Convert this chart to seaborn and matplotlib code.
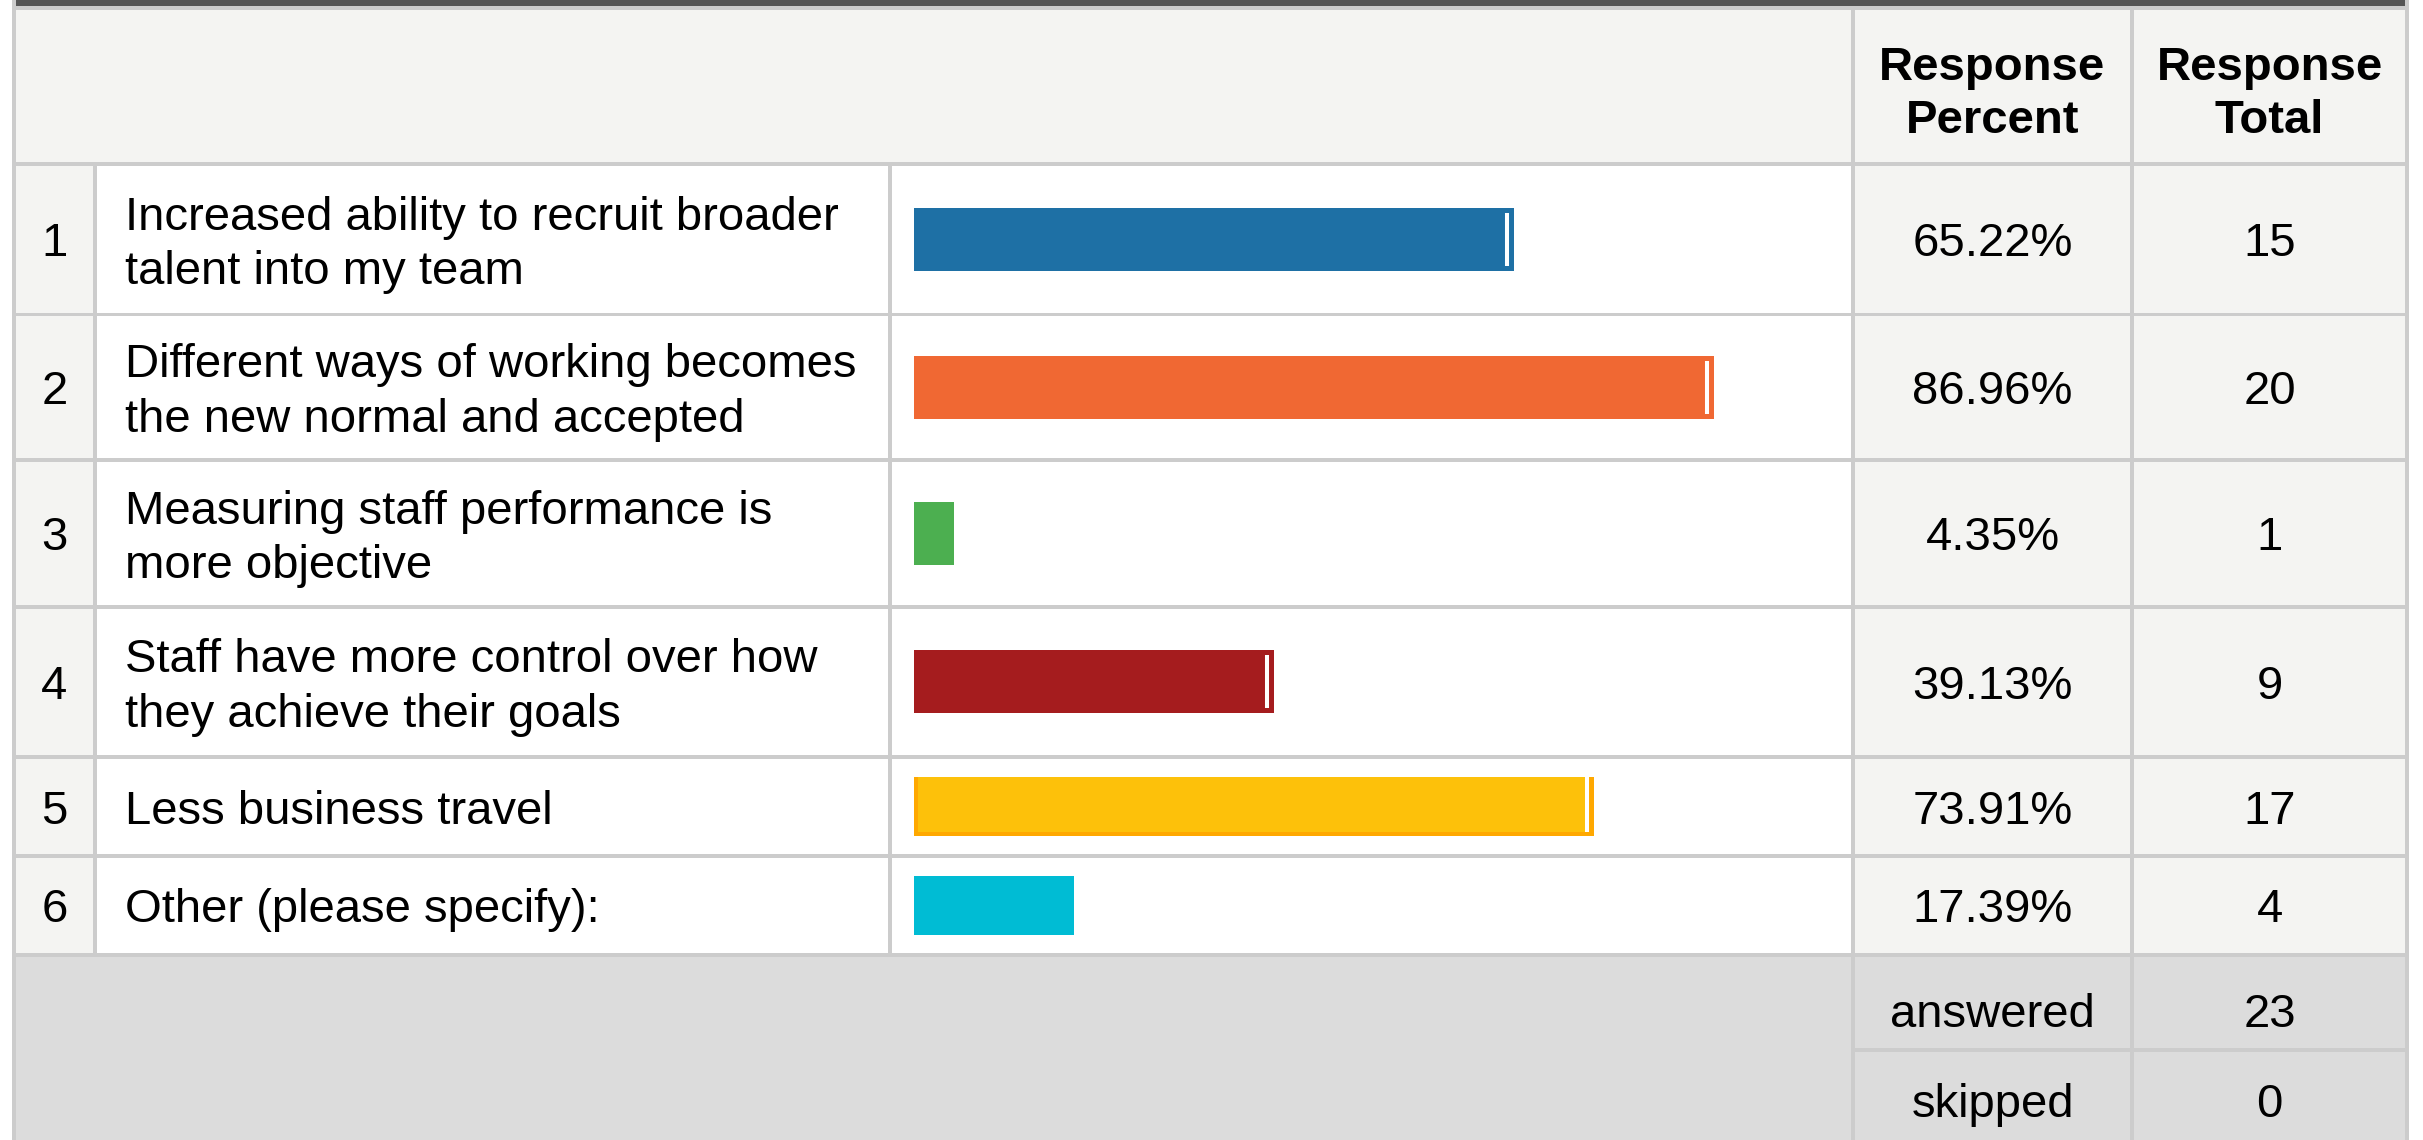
import matplotlib
matplotlib.use("Agg")
import matplotlib.pyplot as plt
from matplotlib.patches import Rectangle
import pandas as pd
import seaborn as sns

# ---- survey results -------------------------------------------------------
options = [
    "Increased ability to recruit broader\ntalent into my team",
    "Different ways of working becomes\nthe new normal and accepted",
    "Measuring staff performance is\nmore objective",
    "Staff have more control over how\nthey achieve their goals",
    "Less business travel",
    "Other (please specify):",
]
percents = [65.22, 86.96, 4.35, 39.13, 73.91, 17.39]
totals = [15, 20, 1, 9, 17, 4]
answered = 23
skipped = 0
header_percent = ["Response", "Percent"]
header_total = ["Response", "Total"]

bar_colors = ["#1E70A5", "#F06833", "#4CAF50", "#A51C1E", "#FDC10A", "#00BCD4"]
end_tick = [True, True, False, True, True, False]

df = pd.DataFrame({"row": [str(i + 1) for i in range(len(options))],
                   "option": options, "percent": percents, "total": totals})

# ---- styling --------------------------------------------------------------
sns.set_theme(style="white")
plt.rcParams["font.family"] = ["Liberation Sans", "DejaVu Sans"]

W, H = 2423, 1140
FS = 34
LINE = "#CCCCCC"
CELL = "#F4F4F2"
FOOT = "#DCDCDC"

fig = plt.figure(figsize=(W / 100, H / 100), dpi=100)
fig.patch.set_facecolor("white")
bg = fig.add_axes([0, 0, 1, 1])
bg.set_xlim(0, W)
bg.set_ylim(H, 0)
bg.axis("off")


def rect(x0, y0, x1, y1, color, z=0):
    bg.add_patch(Rectangle((x0, y0), x1 - x0, y1 - y0, facecolor=color,
                           edgecolor="none", zorder=z))


# table geometry (pixels)
x_left, x_num, x_lab, x_pct, x_tot, x_right = 12, 93, 888, 1851, 2130, 2405
row_top = [166, 316, 462, 609, 759, 858]
row_bot = [313, 458, 605, 755, 854, 953]
bar_x0, bar_x1 = 914, 1834          # 0% .. 100%
bar_h = [63, 63, 63, 63, 59, 59]

# backgrounds
rect(x_left, 0, x_right + 4, 6, "#555555", 1)
rect(x_left, 6, x_right + 4, 10, LINE, 1)
rect(x_left, 10, x_right + 4, 162, CELL)
for t, b in zip(row_top, row_bot):
    rect(x_left, t, x_num, b, CELL)
    rect(x_pct, t, x_right, b, CELL)
rect(x_left, 957, x_right + 4, H, FOOT)

# grid lines
for y in [162] + row_bot:
    rect(x_left, y, x_right + 4, y + 4 if y != 313 else y + 3, LINE, 2)
rect(x_pct, 1048, x_right + 4, 1052, LINE, 2)
rect(x_left, 0, x_left + 4, H, LINE, 2)
rect(x_right, 0, x_right + 4, H, LINE, 2)
rect(x_num, 162, x_num + 4, 957, LINE, 2)
rect(x_lab, 162, x_lab + 4, 957, LINE, 2)
rect(x_pct, 10, x_pct + 4, H, LINE, 2)
rect(x_tot, 10, x_tot + 4, H, LINE, 2)

# header
c_pct = (x_pct + 4 + x_tot) / 2
c_tot = (x_tot + 4 + x_right) / 2
for cx, lines in ((c_pct, header_percent), (c_tot, header_total)):
    for k, s in enumerate(lines):
        bg.text(cx, 80 + 53 * k, s, ha="center", va="baseline",
                fontsize=FS, fontweight="bold", color="black", zorder=5)

# rows
for i, r in df.iterrows():
    t, b = row_top[i], row_bot[i]
    c = (t + b) / 2
    bg.text((x_left + 4 + x_num) / 2, c + 17, r["row"], ha="center",
            va="baseline", fontsize=FS, color="black", zorder=5)
    lines = r["option"].split("\n")
    if len(lines) == 1:
        bases = [c + 17]
    else:
        bases = [c - 10, c + 45]
    for s, yb in zip(lines, bases):
        bg.text(125, yb, s, ha="left", va="baseline", fontsize=FS,
                color="black", zorder=5)
    bg.text(c_pct, c + 17, f"{r['percent']:.2f}%", ha="center", va="baseline",
            fontsize=FS, color="black", zorder=5)
    bg.text(c_tot, c + 17, f"{r['total']}", ha="center", va="baseline",
            fontsize=FS, color="black", zorder=5)

    # bar for this row
    ax = fig.add_axes([bar_x0 / W, 1 - b / H, (bar_x1 - bar_x0) / W, (b - t) / H])
    ax.patch.set_alpha(0)
    frac = bar_h[i] / (b - t)
    px = 100 / (bar_x1 - bar_x0)          # percent per pixel
    py = 1 / (b - t)                      # data units per pixel
    base_color = "#FFA800" if i == 4 else bar_colors[i]
    sns.barplot(data=df.iloc[[i]], x="percent", y="row", orient="h",
                color=base_color, saturation=1, width=frac, linewidth=0, ax=ax)
    ax.set_xlim(0, 100)
    ax.set_ylim(0.5, -0.5)
    ax.axis("off")
    half = frac / 2
    if i == 4:
        # lighter face with an orange rim on left, right and bottom
        ax.add_patch(Rectangle((4 * px, -half), r["percent"] - 9 * px,
                               2 * half - 4 * py, facecolor=bar_colors[i],
                               edgecolor="none", zorder=3))
        if end_tick[i]:
            ax.vlines(r["percent"] - 7 * px, -half, half - 4 * py,
                      color="white", linewidth=2.9, zorder=4)
    elif end_tick[i]:
        ax.vlines(r["percent"] - 7 * px, -half + 5 * py, half - 5 * py,
                  color="white", linewidth=2.9, zorder=4)

# footer
bg.text(c_pct, 1027, "answered", ha="center", va="baseline", fontsize=FS,
        color="black", zorder=5)
bg.text(c_tot, 1027, f"{answered}", ha="center", va="baseline", fontsize=FS,
        color="black", zorder=5)
bg.text(c_pct, 1117, "skipped", ha="center", va="baseline", fontsize=FS,
        color="black", zorder=5)
bg.text(c_tot, 1117, f"{skipped}", ha="center", va="baseline", fontsize=FS,
        color="black", zorder=5)

fig.savefig("out.png", dpi=100, facecolor="white")
